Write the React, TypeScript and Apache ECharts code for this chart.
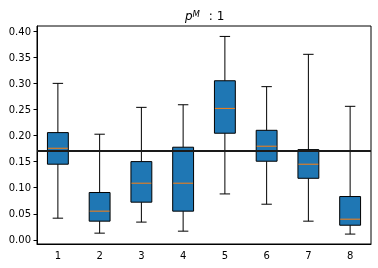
import React, { useEffect, useRef } from "react";
import * as echarts from "echarts";

const categories = ["1", "2", "3", "4", "5", "6", "7", "8"];
const whiskerLow = [0.0415, 0.0128, 0.034, 0.0166, 0.088, 0.0683, 0.0358, 0.011];
const q1Values = [0.145, 0.0358, 0.0722, 0.055, 0.2044, 0.1507, 0.118, 0.028];
const medians = [0.1756, 0.055, 0.1086, 0.1086, 0.252, 0.1795, 0.145, 0.0396];
const q3Values = [0.2056, 0.0907, 0.15, 0.1776, 0.305, 0.21, 0.173, 0.083];
const whiskerHigh = [0.3, 0.2025, 0.254, 0.259, 0.39, 0.2937, 0.3557, 0.256];
const referenceLine = 0.171;
const yTicks = [0, 0.05, 0.1, 0.15, 0.2, 0.25, 0.3, 0.35, 0.4];

export default function App() {
  const ref = useRef<HTMLDivElement>(null);
  useEffect(() => {
    if (!ref.current) return;
    const chart = echarts.init(ref.current, undefined, { renderer: "svg" });
    const data = categories.map((_, i) => [
      i,
      whiskerLow[i],
      q1Values[i],
      medians[i],
      q3Values[i],
      whiskerHigh[i],
    ]);
    const font = '"DejaVu Sans", sans-serif';
    chart.setOption({
      animation: false,
      grid: {
        left: 37,
        right: 7,
        top: 26,
        bottom: 24,
        show: true,
        borderColor: "#000",
        borderWidth: 1,
        backgroundColor: "transparent",
      },
      xAxis: {
        type: "category",
        data: categories,
        boundaryGap: true,
        axisLine: { onZero: false, lineStyle: { color: "#000", width: 1 } },
        axisTick: { alignWithLabel: true, length: 3.5, lineStyle: { color: "#000" } },
        axisLabel: { color: "#000", fontSize: 10, fontFamily: font, margin: 6 },
        splitLine: { show: false },
      },
      yAxis: {
        type: "value",
        min: -0.008,
        max: 0.41,
        axisLine: { show: true, lineStyle: { color: "#000", width: 1 } },
        axisTick: { show: true, length: 3.5, customValues: yTicks, lineStyle: { color: "#000" } },
        axisLabel: {
          color: "#000",
          fontSize: 10,
          fontFamily: font,
          margin: 6,
          customValues: yTicks,
          formatter: (v: number) => v.toFixed(2),
        },
        splitLine: { show: false },
      },
      graphic: [
        { type: "text", x: 185, y: 16, style: { text: "p", font: `italic 12px ${font}`, fill: "#000", verticalAlign: "middle" } },
        { type: "text", x: 192.5, y: 13.5, style: { text: "M", font: `italic 8.5px ${font}`, fill: "#000", verticalAlign: "middle" } },
        { type: "text", x: 205, y: 16, style: { text: " : 1", font: `12px ${font}`, fill: "#000", verticalAlign: "middle" } },
      ],
      series: [
        {
          type: "custom",
          data,
          encode: { x: 0, y: [1, 2, 3, 4, 5] },
          renderItem: (params: any, api: any) => {
            const x = api.value(0);
            const pLow = api.coord([x, api.value(1)]);
            const pQ1 = api.coord([x, api.value(2)]);
            const pMed = api.coord([x, api.value(3)]);
            const pQ3 = api.coord([x, api.value(4)]);
            const pHigh = api.coord([x, api.value(5)]);
            const band = api.size([1, 0])[0];
            const bw = band * 0.5;
            const cw = band * 0.25;
            const cx = pLow[0];
            const ls = { stroke: "#000", lineWidth: 1 };
            return {
              type: "group",
              children: [
                { type: "line", shape: { x1: cx, y1: pLow[1], x2: cx, y2: pQ1[1] }, style: ls },
                { type: "line", shape: { x1: cx, y1: pQ3[1], x2: cx, y2: pHigh[1] }, style: ls },
                { type: "line", shape: { x1: cx - cw / 2, y1: pLow[1], x2: cx + cw / 2, y2: pLow[1] }, style: ls },
                { type: "line", shape: { x1: cx - cw / 2, y1: pHigh[1], x2: cx + cw / 2, y2: pHigh[1] }, style: ls },
                {
                  type: "rect",
                  shape: { x: cx - bw / 2, y: pQ3[1], width: bw, height: pQ1[1] - pQ3[1] },
                  style: { fill: "#1f77b4", stroke: "#000", lineWidth: 1 },
                },
                {
                  type: "line",
                  shape: { x1: cx - bw / 2 + 0.5, y1: pMed[1], x2: cx + bw / 2 - 0.5, y2: pMed[1] },
                  style: { stroke: "#ff7f0e", lineWidth: 1 },
                },
              ],
            };
          },
        },
        {
          type: "line",
          data: [],
          z: 10,
          markLine: {
            silent: true,
            symbol: "none",
            label: { show: false },
            lineStyle: { color: "#1a1a1a", width: 2, type: "solid" },
            data: [{ yAxis: referenceLine }],
          },
        },
      ],
    });
    return () => chart.dispose();
  }, []);
  return (
    <div
      ref={ref}
      style={{ position: "fixed", left: 0, top: 0, width: 378, height: 268 }}
    />
  );
}
